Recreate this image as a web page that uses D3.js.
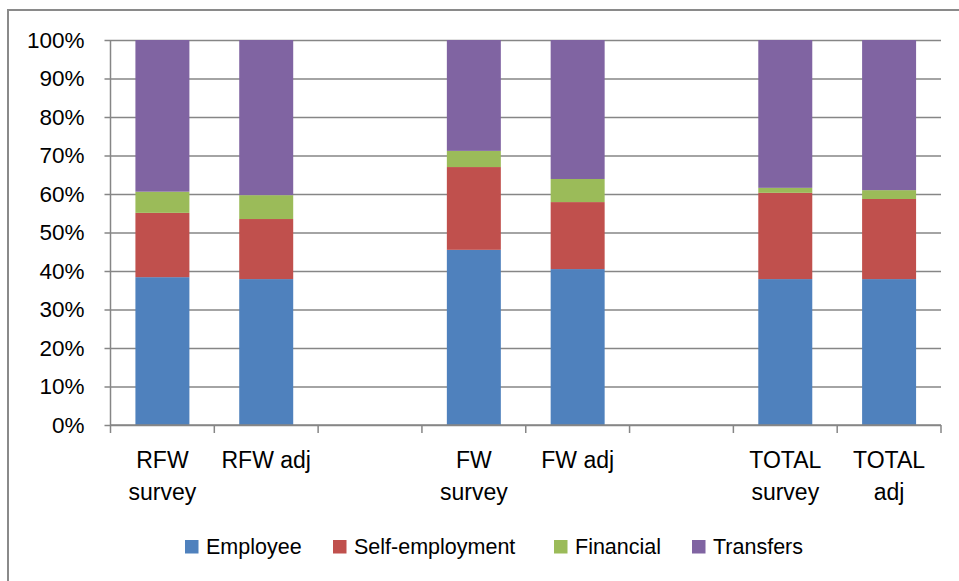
<!DOCTYPE html>
<html>
<head>
<meta charset="utf-8">
<script src="https://cdn.jsdelivr.net/npm/d3@7"></script>
<style>
  body { margin: 0; background: #fff; }
  text { font-family: "Liberation Sans", Arial, sans-serif; fill: #000; }
</style>
</head>
<body>
<svg id="chart" width="959" height="581"></svg>
<script>
// categories (blank slots keep the gaps between groups)
const categories = ["RFW survey", "RFW adj", "gap1", "FW survey", "FW adj", "gap2", "TOTAL survey", "TOTAL adj"];
const categoryLabels = [["RFW", "survey"], ["RFW adj"], [], ["FW", "survey"], ["FW adj"], [], ["TOTAL", "survey"], ["TOTAL", "adj"]];
const seriesNames = ["Employee", "Self-employment", "Financial", "Transfers"];
const seriesColors = ["#4F81BD", "#C0504D", "#9BBB59", "#8064A2"];

// shares in percent, null for the empty slots
const employee       = [38.4, 37.9, null, 45.5, 40.5, null, 37.9, 37.9];
const selfEmployment = [16.7, 15.6, null, 21.5, 17.4, null, 22.4, 20.8];
const financial      = [5.5, 6.2, null, 4.2, 6.0, null, 1.3, 2.3];
const transfers      = [39.4, 40.3, null, 28.8, 36.1, null, 38.4, 39.0];
const yTicks = [0, 10, 20, 30, 40, 50, 60, 70, 80, 90, 100];

const svg = d3.select("#chart");
const margin = {top: 40, left: 110.5, right: 18, bottom: 156};
const W = 959, H = 581;
const axisColor = "#868686";

// outer frame (top and left edge visible)
svg.append("rect")
    .attr("x", 8).attr("y", 10)
    .attr("width", 1000).attr("height", 1000)
    .attr("fill", "none")
    .attr("stroke", "#8a8a8a")
    .attr("stroke-width", 2);

const x = d3.scaleBand()
    .domain(categories)
    .range([margin.left, W - margin.right])
    .paddingInner(0.48)
    .paddingOuter(0.24);

const y = d3.scaleLinear()
    .domain([0, 100])
    .range([H - margin.bottom, margin.top]);

const rows = categories.map((c, i) => ({
    cat: c,
    Employee: employee[i],
    "Self-employment": selfEmployment[i],
    Financial: financial[i],
    Transfers: transfers[i]
})).filter(d => d.Employee !== null);

const stacked = d3.stack().keys(seriesNames)(rows);

// gridlines + y axis
svg.append("g")
    .attr("transform", `translate(${margin.left},0)`)
    .call(d3.axisLeft(y).tickValues(yTicks).tickFormat(d => d + "%")
        .tickSize(-(W - margin.right - margin.left)).tickPadding(26))
    .call(g => g.select(".domain").remove())
    .call(g => g.selectAll(".tick line")
        .attr("stroke", axisColor).attr("stroke-width", 1.5)
        .attr("x1", -6))
    .call(g => g.selectAll(".tick text")
        .attr("font-size", 22.5)
        .attr("font-family", "Liberation Sans, Arial, sans-serif")
        .attr("fill", "#000"));

// vertical axis line
svg.append("line")
    .attr("x1", margin.left).attr("x2", margin.left)
    .attr("y1", y(100)).attr("y2", y(0))
    .attr("stroke", axisColor).attr("stroke-width", 1.5);

// bars
svg.append("g").selectAll("g")
    .data(stacked)
    .join("g")
    .attr("fill", (d, i) => seriesColors[i])
    .selectAll("rect")
    .data(d => d)
    .join("rect")
    .attr("x", d => x(d.data.cat))
    .attr("width", x.bandwidth())
    .attr("y", d => y(d[1]))
    .attr("height", d => y(d[0]) - y(d[1]));

// x axis line and tick marks at slot boundaries
const step = x.step();
const xAxis = svg.append("g");
xAxis.append("line")
    .attr("x1", margin.left).attr("x2", margin.left + step * categories.length)
    .attr("y1", y(0)).attr("y2", y(0))
    .attr("stroke", axisColor).attr("stroke-width", 1.5);
xAxis.selectAll("line.tk")
    .data(d3.range(categories.length + 1))
    .join("line")
    .attr("class", "tk")
    .attr("x1", i => margin.left + i * step).attr("x2", i => margin.left + i * step)
    .attr("y1", y(0)).attr("y2", y(0) + 8)
    .attr("stroke", axisColor).attr("stroke-width", 1.5);

// category labels
const labelG = svg.append("g");
categories.forEach((c, i) => {
    const cx = x(c) + x.bandwidth() / 2;
    const t = labelG.append("text")
        .attr("text-anchor", "middle")
        .attr("font-size", 23);
    categoryLabels[i].forEach((line, j) => {
        t.append("tspan")
            .attr("x", cx)
            .attr("y", 468 + j * 32)
            .text(line);
    });
});

// legend
const legendX = [185, 333, 554, 692];
const legend = svg.append("g");
seriesNames.forEach((name, i) => {
    legend.append("rect")
        .attr("x", legendX[i]).attr("y", 540)
        .attr("width", 13.5).attr("height", 13.5)
        .attr("fill", seriesColors[i]);
    legend.append("text")
        .attr("x", legendX[i] + 21).attr("y", 554)
        .attr("font-size", 21.5)
        .text(name);
});
</script>
</body>
</html>
